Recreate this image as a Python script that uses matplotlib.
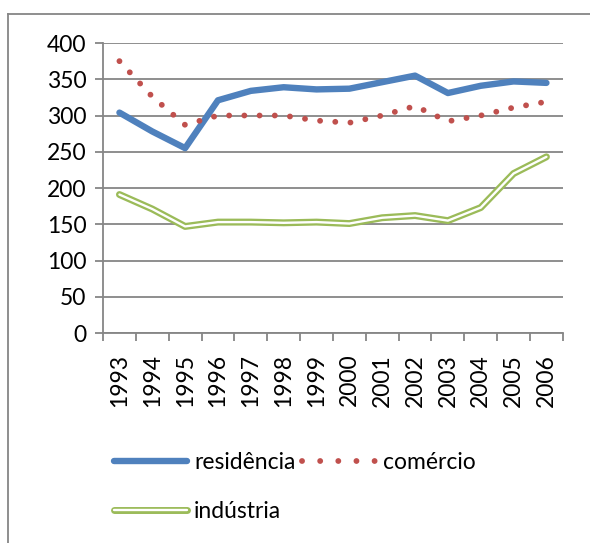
import matplotlib
matplotlib.use("Agg")
import matplotlib.pyplot as plt
import matplotlib.patheffects as pe
from matplotlib.lines import Line2D
import numpy as np

plt.rcParams['font.family'] = ['Lato', 'DejaVu Sans']

anos = ['1993', '1994', '1995', '1996', '1997', '1998', '1999',
        '2000', '2001', '2002', '2003', '2004', '2005', '2006']
residencia = [304, 278, 255, 321, 334, 339, 336, 337, 346, 355, 331, 341, 347, 345]
comercio = [375, 326, 287, 300, 300, 300, 293, 290, 300, 313, 292, 300, 311, 319]
industria = [191, 171, 147, 153, 153, 152, 153, 151, 159, 162, 155, 173, 220, 243]

grey = '#868686'
azul = '#4F81BD'
vermelho = '#C0504D'
verde = '#9BBB59'
fs = 16.5

fig = plt.figure(figsize=(5.9, 5.43), dpi=100)
ax = fig.add_axes([0.1746, 0.3867, 0.954 - 0.1746, 0.9208 - 0.3867])

x = np.arange(len(anos))
l1, = ax.plot(x, residencia, color=azul, lw=4.6, solid_capstyle='round',
              solid_joinstyle='round', label='residência', zorder=3)
l2, = ax.plot(x, comercio, color=vermelho, lw=4.2, linestyle=(0, (0.01, 2.6)),
              dash_capstyle='round', label='comércio', zorder=3)
l3, = ax.plot(x, industria, color='white', lw=1.7, label='indústria', zorder=3,
              solid_capstyle='round',
              path_effects=[pe.Stroke(linewidth=5.0, foreground=verde, capstyle='round'),
                            pe.Normal()])

ax.set_xlim(-0.5, len(anos) - 0.5)
ax.set_ylim(0, 400)
ax.set_yticks(range(0, 401, 50))
ax.yaxis.grid(True, color=grey, lw=1.3)
ax.set_axisbelow(True)

# ticks at the category boundaries, labels at the centres
ax.set_xticks(np.arange(-0.5, len(anos), 1))
ax.set_xticklabels([])
ax.set_xticks(x, minor=True)
ax.set_xticklabels(anos, minor=True, rotation=90, fontsize=fs)
ax.tick_params(axis='x', which='major', length=6, color=grey, width=1.3)
ax.tick_params(axis='x', which='minor', length=0, pad=15)
ax.tick_params(axis='y', length=6, color=grey, width=1.3, labelsize=fs, pad=6)

for s in ['top', 'right']:
    ax.spines[s].set_visible(False)
for s in ['left', 'bottom']:
    ax.spines[s].set_color(grey)
    ax.spines[s].set_linewidth(1.3)

# legend proxy for the dotted line so the dots fill the whole handle
l2_leg = Line2D([], [], color=vermelho, lw=4.2, linestyle=(0, (0.01, 3.1)),
                dash_capstyle='round')

leg = fig.legend([l1, l3, l2_leg], ['residência', 'indústria', 'comércio'],
                 ncol=2, loc='upper left', bbox_to_anchor=(0.193, 0.167),
                 frameon=False, fontsize=fs, handlelength=3.2,
                 handletextpad=0.3, columnspacing=0.3, labelspacing=1.2,
                 borderaxespad=0, borderpad=0)

# outer chart border (only left and top visible)
fig.add_artist(Line2D([8 / 590, 8 / 590], [0, 1 - 14 / 543], color=grey, lw=1.3,
                      transform=fig.transFigure))
fig.add_artist(Line2D([8 / 590, 1], [1 - 14 / 543, 1 - 14 / 543], color=grey, lw=1.3,
                      transform=fig.transFigure))

fig.savefig('out.png', dpi=100)
